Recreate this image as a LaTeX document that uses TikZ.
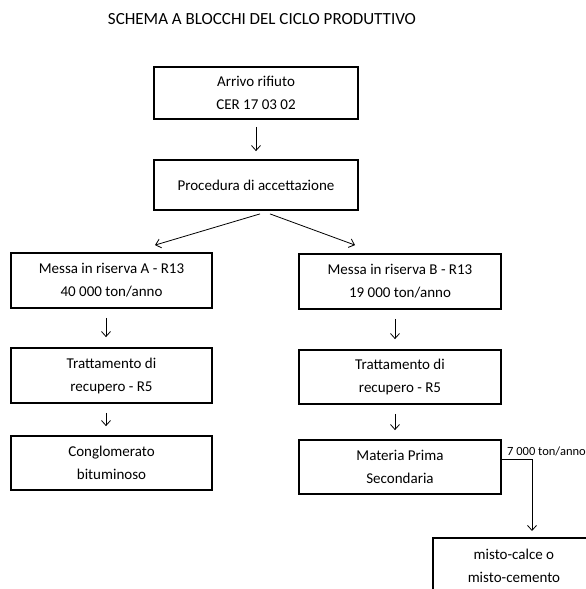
\documentclass[tikz,border=0pt]{standalone}
\usepackage{fontspec}
\setmainfont{Carlito}
\usetikzlibrary{arrows.meta}
\begin{document}
\begin{tikzpicture}[x=1pt,y=-1pt,
  box/.style={draw=black, line width=1.8pt, align=center, inner sep=0pt, font=\fontsize{15}{23}\selectfont},
  arr/.style={draw=black, line width=0.8pt, -{Straight Barb[length=5pt,width=9pt]}},
]
\useasboundingbox (0,0) rectangle (586,589);
\clip (0,0) rectangle (586,589);
\node[font=\fontsize{17}{20}\selectfont, inner sep=0pt] (title) at (262,19) {SCHEMA A BLOCCHI DEL CICLO PRODUTTIVO};
\node[box, minimum width=204pt, minimum height=52pt] (arrivo) at (256,93) {Arrivo rifiuto\\CER 17 03 02};
\node[box, minimum width=204pt, minimum height=50pt] (proc) at (256,185) {Procedura di accettazione};
\node[box, minimum width=201pt, minimum height=55pt] (ra) at (111.5,280.5) {Messa in riserva A - R13\\40 000 ton/anno};
\node[box, minimum width=202pt, minimum height=55pt] (rb) at (400,281.5) {Messa in riserva B - R13\\19 000 ton/anno};
\node[box, minimum width=201pt, minimum height=55pt] (ta) at (111.5,375.5) {Trattamento di\\recupero - R5};
\node[box, minimum width=202pt, minimum height=54pt] (tb) at (400,377) {Trattamento di\\recupero - R5};
\node[box, minimum width=201pt, minimum height=54pt] (ca) at (111.5,463) {Conglomerato\\bituminoso};
\node[box, minimum width=202pt, minimum height=54pt] (mb) at (400,467) {Materia Prima\\Secondaria};
\node[box, anchor=north west, minimum width=162pt, minimum height=56pt] (mc) at (432,537) {misto-calce o\\misto-cemento};

\draw[arr, shorten <=7pt, shorten >=8pt] (arrivo.south) -- (proc.north);
\draw[arr] ([xshift=4pt,yshift=-3pt]proc.south) -- ([xshift=43.5pt,yshift=7pt]ra.north);
\draw[arr] ([xshift=14pt,yshift=-3pt]proc.south) -- ([xshift=-45pt,yshift=8pt]rb.north);
\draw[arr, shorten <=9pt, shorten >=10pt] ([xshift=-5.5pt]ra.south) -- ([xshift=-5.5pt]ta.north);
\draw[arr, shorten <=9pt, shorten >=9pt] ([xshift=-5.5pt]ta.south) -- ([xshift=-5.5pt]ca.north);
\draw[arr, shorten <=9pt, shorten >=10pt] ([xshift=-5pt]rb.south) -- ([xshift=-5pt]tb.north);
\draw[arr, shorten <=9pt, shorten >=9pt] ([xshift=-5pt]tb.south) -- ([xshift=-5pt]mb.north);
\coordinate (bend) at (532,459);
\draw[arr, shorten >=6pt] (mb.east |- bend) -- (bend) -- (bend |- mc.north);
\node[anchor=base west, font=\fontsize{12.5}{15}\selectfont, inner sep=0pt] (lbl) at (507,455) {7 000 ton/anno};
\end{tikzpicture}
\end{document}
